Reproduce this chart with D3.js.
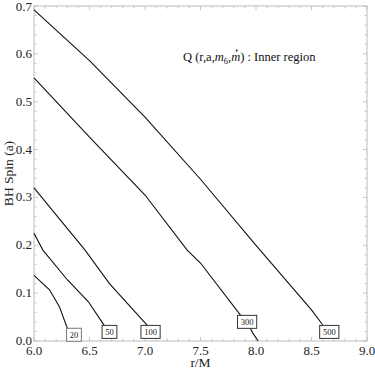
<!DOCTYPE html>
<html>
<head>
<meta charset="utf-8">
<script src="https://cdn.jsdelivr.net/npm/d3@7"></script>
<style>
  body { margin: 0; background: white; }
  svg text { font-family: "Liberation Serif", serif; }
</style>
</head>
<body>
<script>
// contour lines Q(r,a) = level
const levels = [20, 50, 100, 300, 500]
const curve20 = [[6.0, 0.137], [6.14, 0.107], [6.23, 0.071], [6.30, 0.027], [6.33, 0.022]]
const curve50 = [[6.0, 0.225], [6.08, 0.19], [6.30, 0.128], [6.49, 0.082], [6.64, 0.03]]
const curve100 = [[6.0, 0.32], [6.46, 0.19], [6.68, 0.12], [7.0, 0.038], [7.03, 0.03]]
const curve300 = [[6.0, 0.55], [6.5, 0.426], [7.0, 0.305], [7.38, 0.19], [7.5, 0.163], [7.86, 0.054], [7.92, 0.04], [7.97, 0.017], [8.02, 0.0]]
const curve500 = [[6.0, 0.692], [6.5, 0.586], [7.0, 0.468], [7.5, 0.338], [8.0, 0.2], [8.5, 0.065], [8.6, 0.034]]
const curves = [curve20, curve50, curve100, curve300, curve500]
// where each level label sits
const labelPos = [[6.36, 0.013], [6.68, 0.019], [7.05, 0.019], [7.92, 0.04], [8.66, 0.019]]

const xTicks = [6.0, 6.5, 7.0, 7.5, 8.0, 8.5, 9.0]
const yTicks = [0.0, 0.1, 0.2, 0.3, 0.4, 0.5, 0.6, 0.7]

const W = 375, H = 374
const frame = { left: 34, right: 367, top: 6, bottom: 341 }
const serif = '"Liberation Serif", serif'

const svg = d3.select('body').append('svg')
    .attr('width', W)
    .attr('height', H)

const x = d3.scaleLinear().domain([6, 9]).range([frame.left, frame.right])
const y = d3.scaleLinear().domain([0, 0.7]).range([frame.bottom, frame.top])

// minor + major ticks, pointing inward on all four sides
const tickCol = '#bbb'
const xMinor = d3.range(6, 9.0001, 0.1)
const yMinor = d3.range(0, 0.7001, 0.02)
const ticks = svg.append('g').attr('stroke', tickCol).attr('stroke-width', 0.8)

xMinor.forEach(v => {
    const major = Math.abs(v * 2 - Math.round(v * 2)) < 1e-6
    const len = major ? 4 : 2.5
    ticks.append('line').attr('x1', x(v)).attr('x2', x(v)).attr('y1', frame.bottom).attr('y2', frame.bottom - len)
    ticks.append('line').attr('x1', x(v)).attr('x2', x(v)).attr('y1', frame.top).attr('y2', frame.top + len)
})
yMinor.forEach(v => {
    const major = Math.abs(v * 10 - Math.round(v * 10)) < 1e-6
    const len = major ? 4 : 2.5
    ticks.append('line').attr('y1', y(v)).attr('y2', y(v)).attr('x1', frame.left).attr('x2', frame.left + len)
    ticks.append('line').attr('y1', y(v)).attr('y2', y(v)).attr('x1', frame.right).attr('x2', frame.right - len)
})

svg.append('rect')
    .attr('x', frame.left).attr('y', frame.top)
    .attr('width', frame.right - frame.left).attr('height', frame.bottom - frame.top)
    .attr('fill', 'none').attr('stroke', tickCol).attr('stroke-width', 1)

// tick labels
svg.append('g').selectAll('text').data(xTicks).join('text')
    .attr('x', d => x(d)).attr('y', frame.bottom + 14)
    .attr('text-anchor', 'middle').style('font-family', serif).style('font-size', '13px').attr('fill', '#222')
    .text(d => d.toFixed(1))

svg.append('g').selectAll('text').data(yTicks).join('text')
    .attr('x', frame.left - 2).attr('y', d => Math.max(y(d) + 4, 11))
    .attr('text-anchor', 'end').style('font-family', serif).style('font-size', '13px').attr('fill', '#222')
    .text(d => d.toFixed(1))

// axis titles
svg.append('text').attr('x', (frame.left + frame.right) / 2).attr('y', 367)
    .attr('text-anchor', 'middle').style('font-family', serif).style('font-size', '13.5px').attr('fill', '#222')
    .text('r/M')

svg.append('text').attr('transform', `translate(13, ${(frame.top + frame.bottom) / 2}) rotate(-90)`)
    .attr('text-anchor', 'middle').style('font-family', serif).style('font-size', '13.5px').attr('fill', '#222')
    .text('BH Spin (a)')

// contour lines
const line = d3.line().x(d => x(d[0])).y(d => y(d[1]))
svg.append('g').selectAll('path').data(curves).join('path')
    .attr('d', line)
    .attr('fill', 'none').attr('stroke', '#111').attr('stroke-width', 1.1)

// level labels in boxes
const lab = svg.append('g').selectAll('g').data(levels).join('g')
    .attr('transform', (d, i) => `translate(${x(labelPos[i][0])},${y(labelPos[i][1])})`)
lab.append('rect')
    .attr('x', d => -(String(d).length * 2.2 + 3)).attr('y', -6.5)
    .attr('width', d => String(d).length * 4.4 + 6).attr('height', 13)
    .attr('fill', 'white').attr('stroke', (d, i) => i === 0 ? '#777' : '#333').attr('stroke-width', 1)
lab.append('text')
    .attr('text-anchor', 'middle').attr('y', 3)
    .style('font-family', serif).style('font-size', '8.5px').attr('fill', '#222')
    .text(d => d)

// title with m6 and m-dot
const title = svg.append('text').attr('x', 183).attr('y', 61)
    .style('font-family', serif).style('font-size', '12.5px').attr('fill', '#111')
title.append('tspan').text('Q (r,a,')
title.append('tspan').style('font-style', 'italic').text('m')
title.append('tspan').attr('dy', 3).style('font-size', '8.5px').text('6')
title.append('tspan').attr('dy', -3).text(',')
title.append('tspan').style('font-style', 'italic').text('m')
title.append('tspan').text(') : Inner region')

// dot above the second m
const tNode = title.node()
const idx = 'Q (r,a,m6,'.length
const p = tNode.getStartPositionOfChar(idx)
const e = tNode.getEndPositionOfChar(idx)
svg.append('circle')
    .attr('cx', (p.x + e.x) / 2 + 1).attr('cy', p.y - 10.5)
    .attr('r', 0.9).attr('fill', '#111')
</script>
</body>
</html>
